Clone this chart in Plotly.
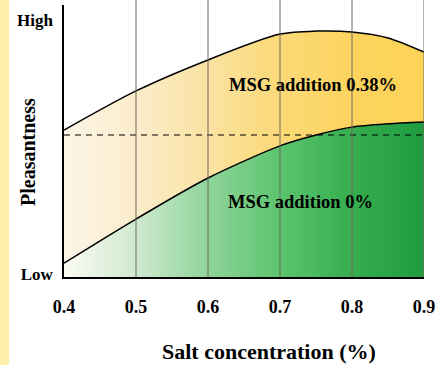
import plotly.graph_objects as go

# Data (y in 0-100 "pleasantness" units)
salt = [0.4, 0.5, 0.6, 0.7, 0.75, 0.8, 0.85, 0.9]
msg_038 = [54.0, 68.4, 79.8, 89.3, 90.4, 90.1, 87.9, 82.7]
msg_0 = [5.1, 21.3, 36.4, 48.2, 52.2, 55.1, 56.3, 57.0]
reference_level = 52.2
x_ticks = [0.4, 0.5, 0.6, 0.7, 0.8, 0.9]
x_ticktext = ["0.4", "0.5", "0.6", "0.7", "0.8", "0.9"]
y_ticks = [94.5, 1.2]
y_ticktext = ["High", "Low"]

SERIF = "Liberation Serif, Times New Roman, serif"

fig = go.Figure()

fig.add_trace(go.Scatter(
    x=salt, y=msg_0, mode="lines",
    line=dict(color="black", width=1.5, shape="spline", smoothing=0.8),
    fill="tozeroy",
    fillgradient=dict(type="horizontal",
                      colorscale=[[0, "#fbfbf3"], [0.2, "#cfe9cf"], [0.4, "#8fd49a"],
                                  [0.6, "#5cc46e"], [0.8, "#36ad4f"], [1, "#1f9c3e"]]),
    showlegend=False, hoverinfo="skip"))

fig.add_trace(go.Scatter(
    x=salt, y=msg_038, mode="lines",
    line=dict(color="black", width=1.5, shape="spline", smoothing=0.8),
    fill="tonexty",
    fillgradient=dict(type="horizontal",
                      colorscale=[[0, "#fcf5e6"], [0.2, "#fbeccb"], [0.4, "#fbe2a2"],
                                  [0.6, "#fbd977"], [0.8, "#fcd45e"], [1, "#fdd356"]]),
    showlegend=False, hoverinfo="skip"))

fig.add_trace(go.Scatter(
    x=[salt[0], salt[-1]], y=[reference_level, reference_level], mode="lines",
    line=dict(color="black", width=1.2, dash="6px,5px"),
    showlegend=False, hoverinfo="skip"))

# vertical grid lines drawn above the fills (at the x tick positions)
for xv in x_ticks[1:]:
    fig.add_shape(type="line", xref="x", yref="paper", x0=xv, x1=xv, y0=0, y1=1 + 5/272,
                  line=dict(color="#6f695e", width=1), layer="above")

fig.add_annotation(x=0.746, y=70.6, text="MSG addition 0.38%", showarrow=False,
                   xanchor="center", yanchor="middle",
                   font=dict(family=SERIF, size=18.5, color="black", weight="bold"))
fig.add_annotation(x=0.728, y=27.6, text="MSG addition 0%", showarrow=False,
                   xanchor="center", yanchor="middle",
                   font=dict(family=SERIF, size=18.5, color="black", weight="bold"))

fig.add_annotation(xref="paper", yref="paper", x=205/360, y=-74/272,
                   xanchor="center", yanchor="middle",
                   text="Salt concentration (%)", showarrow=False,
                   font=dict(family=SERIF, size=22, color="black", weight="bold"))
fig.add_annotation(xref="paper", yref="paper", x=-36/360, y=125/272,
                   xanchor="center", yanchor="middle",
                   text="Pleasantness", textangle=-90, showarrow=False,
                   font=dict(family=SERIF, size=20, color="black", weight="bold"))

# left yellow strip
fig.add_shape(type="rect", xref="paper", yref="paper",
              x0=-64/360, x1=-55/360, y0=-88/272, y1=5/272 + 1,
              fillcolor="#fbefaa", line=dict(width=0), layer="below")

fig.update_layout(
    width=437, height=365,
    margin=dict(l=64, r=13, t=5, b=88, autoexpand=False),
    paper_bgcolor="white", plot_bgcolor="white",
    xaxis=dict(range=[0.4, 0.9], tickvals=x_ticks, ticktext=x_ticktext,
               showgrid=False, automargin=False,
               showline=True, linecolor="black", linewidth=1.5,
               ticks="", ticklabelstandoff=13, zeroline=False,
               tickfont=dict(family=SERIF, size=18, color="black", weight="bold")),
    yaxis=dict(range=[0, 100], tickvals=y_ticks, ticktext=y_ticktext,
               showgrid=False, showline=True, linecolor="black", linewidth=1.5,
               automargin=False,
               ticks="", ticklabelstandoff=6, zeroline=False,
               tickfont=dict(family=SERIF, size=17, color="black", weight="bold")),
)

fig.write_html("out.html", config={"displayModeBar": False},
               post_script="document.body.style.margin='0';")
